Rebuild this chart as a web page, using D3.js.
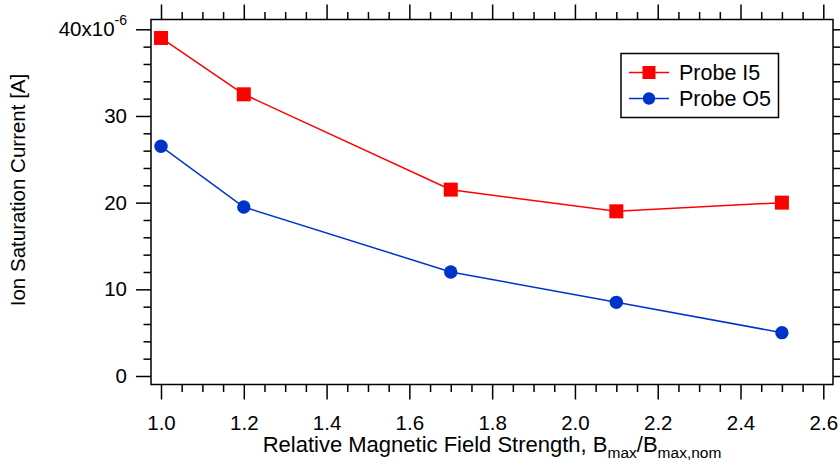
<!DOCTYPE html>
<html>
<head>
<meta charset="utf-8">
<script src="https://cdn.jsdelivr.net/npm/d3@7"></script>
<style>
  body { margin: 0; background: #fff; }
  text { font-family: "Liberation Sans", Arial, sans-serif; fill: #000; }
</style>
</head>
<body>
<div id="graph"></div>
<script>
let width = 840;
let height = 467;

// data
let fieldStrength = [1.0, 1.2, 1.7, 2.1, 2.5];
let probeI5 = [39.0, 32.5, 21.5, 19.0, 20.0];
let probeO5 = [26.5, 19.5, 12.0, 8.5, 5.0];
let seriesNames = ['Probe I5', 'Probe O5'];
let seriesColors = ['#ff0000', '#0033cc'];
let xTicks = [1.0, 1.2, 1.4, 1.6, 1.8, 2.0, 2.2, 2.4, 2.6];
let yTicks = [0, 10, 20, 30, 40];

// plot box (axes sit a little off the data area, Igor style)
let frame = {left: 151, right: 833, top: 19.5, bottom: 384.5};

let x = d3.scaleLinear().domain([1.0, 2.6]).range([161, 823.3]);
let y = d3.scaleLinear().domain([0, 40]).range([376, 29.3]);

let xMinor = d3.range(1.0, 2.6001, 0.05).filter(v => !xTicks.some(t => Math.abs(t - v) < 1e-6));
let yMinor = d3.range(0, 40.001, 2).filter(v => v % 10 !== 0);

let svg = d3.select('#graph')
    .append('svg')
        .attr('width', width)
        .attr('height', height);

let major = 15, minor = 7.5;

function ticks(g) {
    g.selectAll('.domain').remove();
    g.selectAll('line').attr('stroke', '#000').attr('stroke-width', 1.5);
}

// bottom axis
svg.append('g')
    .attr('transform', 'translate(0,' + frame.bottom + ')')
    .call(d3.axisBottom(x).tickValues(xTicks).tickSize(major).tickPadding(16)
        .tickFormat(d3.format('.1f')))
    .call(g => { ticks(g); g.selectAll('text').attr('font-size', 20.5).attr('fill', '#000'); });
svg.append('g')
    .attr('transform', 'translate(0,' + frame.bottom + ')')
    .call(d3.axisBottom(x).tickValues(xMinor).tickSize(minor).tickFormat(''))
    .call(g => ticks(g));

// top axis
svg.append('g')
    .attr('transform', 'translate(0,' + frame.top + ')')
    .call(d3.axisTop(x).tickValues(xTicks).tickSize(major).tickFormat(''))
    .call(g => ticks(g));
svg.append('g')
    .attr('transform', 'translate(0,' + frame.top + ')')
    .call(d3.axisTop(x).tickValues(xMinor).tickSize(minor).tickFormat(''))
    .call(g => ticks(g));

// left axis
let left = svg.append('g')
    .attr('transform', 'translate(' + frame.left + ',0)')
    .call(d3.axisLeft(y).tickValues(yTicks).tickSize(major).tickPadding(9))
    .call(g => { ticks(g); g.selectAll('text').attr('font-size', 20.5).attr('fill', '#000'); });
left.selectAll('.tick text')
    .filter(d => d === 40)
    .text('40x10')
    .append('tspan')
        .attr('dy', -11)
        .attr('font-size', 14)
        .text('-6');
svg.append('g')
    .attr('transform', 'translate(' + frame.left + ',0)')
    .call(d3.axisLeft(y).tickValues(yMinor).tickSize(minor).tickFormat(''))
    .call(g => ticks(g));

// right axis
svg.append('g')
    .attr('transform', 'translate(' + frame.right + ',0)')
    .call(d3.axisRight(y).tickValues(yTicks).tickSize(major).tickFormat(''))
    .call(g => ticks(g));
svg.append('g')
    .attr('transform', 'translate(' + frame.right + ',0)')
    .call(d3.axisRight(y).tickValues(yMinor).tickSize(minor).tickFormat(''))
    .call(g => ticks(g));

// frame
svg.append('rect')
    .attr('x', frame.left)
    .attr('y', frame.top)
    .attr('width', frame.right - frame.left)
    .attr('height', frame.bottom - frame.top)
    .attr('fill', 'none')
    .attr('stroke', '#000')
    .attr('stroke-width', 1.5);

// axis titles
let xt = svg.append('text')
    .attr('x', (frame.left + frame.right) / 2)
    .attr('y', 452)
    .attr('text-anchor', 'middle')
    .attr('font-size', 22);
xt.append('tspan').text('Relative Magnetic Field Strength, B');
xt.append('tspan').attr('font-size', 15.5).attr('dy', 5.5).text('max');
xt.append('tspan').attr('dy', -5.5).text('/B');
xt.append('tspan').attr('font-size', 15.5).attr('dy', 5.5).text('max,nom');

svg.append('text')
    .attr('transform', 'translate(25,190) rotate(-90)')
    .attr('text-anchor', 'middle')
    .attr('font-size', 20.5)
    .text('Ion Saturation Current [A]');

// series
let series = [probeI5, probeO5];
let line = d3.line()
    .x((d, i) => x(fieldStrength[i]))
    .y(d => y(d));

series.forEach((vals, s) => {
    svg.append('path')
        .datum(vals)
        .attr('fill', 'none')
        .attr('stroke', seriesColors[s])
        .attr('stroke-width', 1.5)
        .attr('d', line);
});

svg.selectAll('.sq')
        .data(probeI5)
    .enter().append('rect')
        .attr('class', 'sq')
        .attr('x', (d, i) => x(fieldStrength[i]) - 7)
        .attr('y', d => y(d) - 7)
        .attr('width', 14)
        .attr('height', 14)
        .attr('fill', seriesColors[0]);

svg.selectAll('.dot')
        .data(probeO5)
    .enter().append('circle')
        .attr('class', 'dot')
        .attr('cx', (d, i) => x(fieldStrength[i]))
        .attr('cy', d => y(d))
        .attr('r', 6.7)
        .attr('fill', seriesColors[1]);

// legend
let lg = svg.append('g').attr('transform', 'translate(621,53.5)');
lg.append('rect')
    .attr('width', 157.5)
    .attr('height', 64)
    .attr('fill', '#fff')
    .attr('stroke', '#000')
    .attr('stroke-width', 1.5);
seriesNames.forEach((name, s) => {
    let cy = 19 + s * 26;
    lg.append('line')
        .attr('x1', 8).attr('x2', 48)
        .attr('y1', cy).attr('y2', cy)
        .attr('stroke', seriesColors[s])
        .attr('stroke-width', 1.5);
    if (s === 0) {
        lg.append('rect')
            .attr('x', 28 - 6.5).attr('y', cy - 6.5)
            .attr('width', 13).attr('height', 13)
            .attr('fill', seriesColors[s]);
    } else {
        lg.append('circle')
            .attr('cx', 28).attr('cy', cy).attr('r', 6.2)
            .attr('fill', seriesColors[s]);
    }
    lg.append('text')
        .attr('x', 58)
        .attr('y', cy)
        .attr('dy', '0.36em')
        .attr('font-size', 21.5)
        .text(name);
});
</script>
</body>
</html>
